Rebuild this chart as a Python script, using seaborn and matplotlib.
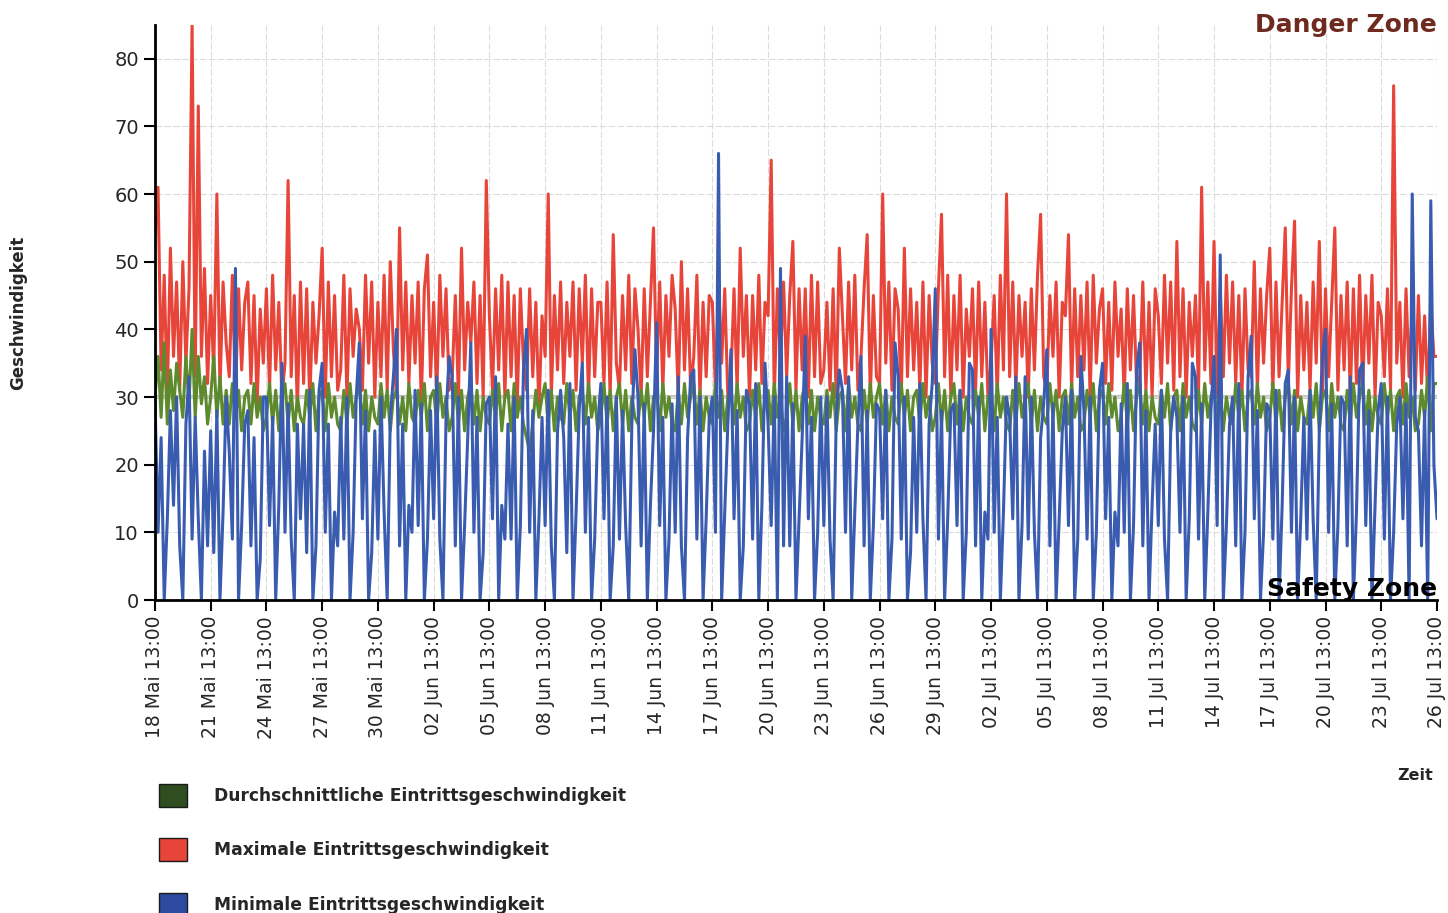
import pandas as pd
import numpy as np
import matplotlib
matplotlib.use("Agg")
import matplotlib.pyplot as plt
import seaborn as sns
from matplotlib.patches import Patch

max_speed = [
    54, 61, 34, 48, 30, 52,   36, 47, 31, 50, 35, 46,   85, 33, 73, 36, 49, 32,
    45, 34, 60, 31, 47, 38,   33, 48, 30, 46, 34, 44,   47, 32, 45, 29, 43, 35,
    46, 31, 48, 34, 44, 30,   35, 62, 33, 45, 28, 47,   32, 46, 29, 44, 35, 42,
    52, 30, 47, 33, 45, 31,   34, 48, 30, 46, 36, 43,   40, 31, 48, 35, 47, 30,
    44, 33, 48, 31, 50, 37,   30, 55, 34, 47, 32, 45,   35, 47, 29, 46, 51, 33,
    44, 30, 48, 36, 46, 31,   33, 45, 30, 52, 34, 44,   38, 47, 32, 45, 30, 62,
    42, 31, 46, 34, 48, 30,   47, 33, 45, 29, 46, 35,   31, 46, 33, 44, 28, 42,
    36, 60, 30, 45, 34, 47,   32, 44, 36, 47, 31, 46,   35, 48, 30, 46, 33, 44,
    44, 32, 47, 30, 54, 35,   31, 45, 34, 48, 32, 46,   40, 30, 46, 33, 44, 55,
    33, 47, 31, 45, 36, 48,   43, 30, 50, 34, 46, 31,   36, 48, 30, 44, 33, 45,
    44, 31, 47, 35, 46, 30,   33, 46, 31, 52, 36, 45,   30, 45, 34, 48, 32, 44,
    42, 65, 30, 46, 35, 47,   33, 45, 53, 31, 46, 34,   46, 30, 48, 33, 47, 32,
    34, 44, 31, 46, 30, 52,   42, 32, 47, 34, 48, 31,   36, 46, 54, 30, 45, 33,
    32, 60, 35, 47, 31, 46,   43, 30, 52, 33, 46, 34,   44, 31, 47, 30, 45, 35,
    32, 46, 57, 33, 48, 30,   45, 34, 48, 30, 43, 36,   46, 31, 47, 33, 44, 30,
    35, 45, 30, 48, 34, 60,   33, 47, 31, 45, 36, 44,   30, 46, 34, 48, 57, 33,
    31, 45, 36, 47, 30, 44,   42, 54, 31, 46, 33, 45,   34, 47, 30, 48, 35, 43,
    46, 32, 44, 31, 47, 36,   43, 30, 46, 34, 45, 32,   33, 47, 31, 44, 30, 46,
    42, 32, 48, 35, 47, 31,   53, 33, 46, 30, 44, 36,   45, 31, 61, 34, 47, 32,
    53, 30, 46, 33, 48, 35,   47, 32, 45, 30, 46, 34,   33, 50, 31, 46, 35, 45,
    52, 31, 47, 33, 44, 55,   32, 46, 56, 30, 45, 34,   44, 31, 47, 35, 53, 30,
    46, 33, 44, 55, 31, 45,   34, 47, 30, 46, 32, 48,   31, 45, 35, 48, 30, 44,
    42, 33, 46, 31, 76, 35,   44, 30, 46, 33, 43, 31,   45, 32, 42, 30, 44, 36,
    36,
]
avg_speed = [
    30, 36, 27, 38, 26, 34,   28, 35, 31, 27, 36, 29,   40, 27, 36, 29, 33, 26,
    30, 36, 27, 33, 26, 31,   26, 32, 27, 31, 25, 30,   31, 26, 32, 27, 30, 25,
    27, 32, 26, 31, 25, 30,   32, 26, 31, 25, 30, 27,   26, 31, 27, 32, 25, 30,
    31, 25, 32, 27, 30, 26,   25, 31, 26, 32, 27, 30,   32, 26, 31, 25, 30, 27,
    26, 32, 27, 31, 25, 30,   31, 26, 30, 25, 32, 27,   26, 31, 27, 32, 25, 30,
    31, 26, 32, 27, 30, 25,   27, 32, 26, 31, 25, 30,   32, 26, 31, 25, 30, 27,
    26, 31, 27, 32, 25, 30,   31, 25, 32, 27, 30, 26,   24, 22, 26, 31, 27, 30,
    32, 26, 31, 25, 30, 27,   26, 32, 27, 31, 25, 30,   31, 26, 32, 27, 30, 25,
    27, 32, 26, 31, 25, 30,   32, 26, 31, 25, 30, 27,   26, 31, 27, 32, 25, 30,
    31, 25, 32, 27, 30, 26,   25, 31, 26, 32, 27, 30,   32, 26, 31, 25, 30, 27,
    26, 32, 27, 31, 25, 30,   31, 26, 32, 27, 30, 25,   26, 31, 27, 32, 25, 30,
    31, 26, 32, 27, 30, 25,   27, 32, 26, 31, 25, 30,   32, 26, 31, 25, 30, 27,
    26, 31, 27, 32, 25, 30,   31, 25, 32, 27, 30, 26,   25, 31, 26, 32, 27, 30,
    32, 26, 31, 25, 30, 27,   26, 32, 27, 31, 25, 30,   31, 26, 32, 27, 30, 25,
    27, 32, 26, 31, 25, 30,   32, 26, 31, 25, 30, 27,   26, 31, 27, 32, 25, 30,
    31, 25, 32, 27, 30, 26,   25, 31, 26, 32, 27, 30,   32, 26, 31, 25, 30, 27,
    26, 32, 27, 31, 25, 30,   31, 26, 32, 27, 30, 25,   26, 31, 27, 32, 25, 30,
    31, 26, 32, 27, 30, 25,   27, 32, 26, 31, 25, 30,   32, 26, 31, 25, 30, 27,
    26, 31, 27, 32, 25, 30,   31, 25, 32, 27, 30, 26,   25, 31, 26, 32, 27, 30,
    32, 26, 31, 25, 30, 27,   26, 32, 27, 31, 25, 30,   31, 26, 32, 27, 30, 25,
    27, 32, 26, 31, 25, 30,   32, 26, 31, 25, 30, 27,   26, 31, 27, 32, 25, 30,
    31, 25, 32, 27, 30, 26,   25, 31, 26, 32, 27, 30,   32, 26, 31, 25, 30, 27,
    26, 32, 27, 31, 25, 30,   31, 26, 32, 27, 30, 25,   26, 31, 27, 33, 25, 32,
    32,
]
min_speed = [
    30, 10, 24, 0, 12, 28,    14, 30, 8, 0, 26, 33,     9, 27, 12, 0, 22, 8,
    25, 7, 28, 0, 13, 30,     22, 9, 49, 0, 11, 26,     28, 8, 24, 0, 6, 30,
    30, 11, 27, 0, 14, 35,    10, 29, 9, 0, 26, 12,     26, 7, 31, 0, 8, 31,
    35, 10, 26, 0, 13, 8,     27, 9, 30, 0, 10, 30,     38, 12, 28, 0, 7, 25,
    9, 30, 13, 0, 27, 33,     40, 8, 26, 0, 14, 10,     31, 11, 29, 0, 9, 28,
    12, 33, 9, 0, 27, 36,     33, 8, 30, 0, 11, 24,     38, 10, 27, 0, 7, 29,
    30, 12, 33, 0, 14, 9,     26, 9, 30, 0, 11, 34,     40, 10, 28, 0, 12, 27,
    11, 31, 8, 0, 25, 31,     24, 7, 32, 0, 13, 28,     35, 10, 27, 0, 9, 26,
    32, 12, 30, 0, 8, 30,     9, 28, 11, 0, 26, 37,     30, 8, 29, 0, 14, 25,
    41, 11, 27, 0, 9, 29,     10, 33, 8, 0, 24, 33,     34, 9, 30, 0, 12, 27,
    30, 10, 66, 0, 13, 26,    37, 12, 28, 0, 8, 31,     29, 9, 32, 0, 14, 35,
    26, 11, 30, 0, 49, 8,     33, 8, 29, 0, 12, 24,     39, 12, 27, 0, 10, 30,
    11, 30, 9, 0, 27, 34,     31, 10, 33, 0, 13, 26,    36, 8, 28, 0, 11, 29,
    28, 12, 31, 0, 9, 38,     33, 9, 30, 0, 7, 27,      10, 32, 12, 0, 26, 32,
    46, 9, 28, 0, 12, 28,     29, 11, 31, 0, 10, 35,    34, 8, 30, 0, 13, 9,
    40, 10, 27, 0, 13, 30,    27, 12, 33, 0, 11, 33,    9, 30, 10, 0, 24, 29,
    37, 8, 29, 0, 12, 25,     30, 11, 31, 0, 9, 36,     28, 9, 30, 0, 10, 31,
    35, 12, 27, 0, 13, 8,     29, 10, 32, 0, 11, 34,    38, 8, 28, 0, 14, 26,
    11, 31, 9, 0, 25, 30,     27, 10, 30, 0, 12, 35,    33, 9, 29, 0, 13, 28,
    36, 11, 51, 0, 11, 26,    30, 8, 32, 0, 10, 33,     39, 12, 28, 0, 10, 29,
    28, 9, 31, 0, 14, 32,     34, 10, 30, 0, 12, 27,    9, 31, 12, 0, 25, 36,
    40, 10, 29, 0, 11, 30,    29, 8, 33, 0, 13, 34,     35, 11, 28, 0, 14, 28,
    32, 9, 30, 0, 10, 26,     30, 12, 29, 0, 60, 27,    25, 8, 28, 0, 59, 20,
    12,
]
month_names = {5: "Mai", 6: "Jun", 7: "Jul"}
labels = ["Durchschnittliche Eintrittsgeschwindigkeit",
          "Maximale Eintrittsgeschwindigkeit",
          "Minimale Eintrittsgeschwindigkeit"]

times = pd.date_range("2013-05-18 13:00", periods=len(max_speed), freq="4h")
df = pd.DataFrame({"Zeit": times, "max": max_speed, "avg": avg_speed, "min": min_speed})

sns.set_style("white")
plt.rcParams['font.family'] = ['DejaVu Sans']

fig = plt.figure(figsize=(14.48, 9.13), dpi=100)
ax = fig.add_axes([0.107, 0.3428, 0.8854, 0.630])

red = "#e8453a"
green = "#5d8a2c"
blue = "#3a5cb0"

# graue Linie bei 30
ax.axhline(30, color="#c8c8c8", lw=3, zorder=0.5)
sns.lineplot(data=df, x="Zeit", y="max", ax=ax, color=red, lw=2.2)
sns.lineplot(data=df, x="Zeit", y="avg", ax=ax, color=green, lw=2.2)
sns.lineplot(data=df, x="Zeit", y="min", ax=ax, color=blue, lw=2.2)

ax.set_xlim(times[0], times[-1])
ax.set_ylim(0, 85)

tick_times = pd.date_range(times[0], times[-1], freq="3D")
ax.set_xticks(tick_times)
ax.set_xticklabels([f"{t.day:02d} {month_names[t.month]} {t:%H:%M}" for t in tick_times],
                   rotation=90, fontsize=13.5)
ax.set_yticks(range(0, 81, 10))
ax.tick_params(axis="y", labelsize=14)
ax.tick_params(direction="out", length=8, width=1.5, color="black", bottom=True, left=True)

ax.grid(True, color="#dcdcdc", lw=0.8, ls=(0, (6, 2)))
ax.set_axisbelow(True)
for s in ["top", "right"]:
    ax.spines[s].set_visible(False)
for s in ["left", "bottom"]:
    ax.spines[s].set_color("black")
    ax.spines[s].set_linewidth(2)

ax.set_xlabel("")
ax.set_ylabel("")
fig.text(0.0125, 0.657, "Geschwindigkeit", rotation=90, ha="center", va="center",
         fontsize=12, fontweight="bold")
fig.text(0.977, 0.151, "Zeit", ha="center", va="center", fontsize=11.5, fontweight="bold")

ax.text(1.0, 1.0, "Danger Zone", transform=ax.transAxes, ha="right", va="center",
        fontsize=18, fontweight="bold", color="#6e2a1e")
ax.text(1.0, 0.02, "Safety Zone", transform=ax.transAxes, ha="right", va="center",
        fontsize=18, fontweight="bold", color="black")

handles = [Patch(facecolor="#2f4d1e", edgecolor="#1a1a1a"),
           Patch(facecolor=red, edgecolor="#1a1a1a"),
           Patch(facecolor="#2c4a9e", edgecolor="#1a1a1a")]
fig.legend(handles, labels, loc="upper left", bbox_to_anchor=(0.0995, 0.158),
           frameon=False, prop={"weight": "bold", "size": 12.3},
           handlelength=1.64, handleheight=1.64, handletextpad=1.55, labelspacing=1.87)

fig.savefig("out.png", dpi=100)
